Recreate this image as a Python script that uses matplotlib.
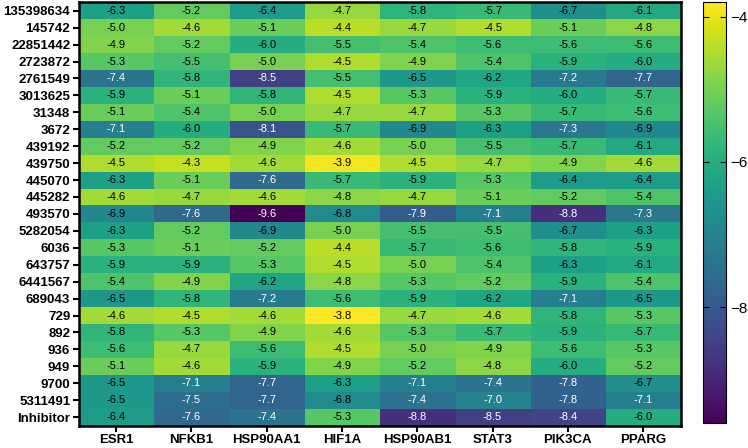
import numpy as np
import matplotlib.pyplot as plt

plt.rcParams['font.family'] = ['Liberation Sans', 'DejaVu Sans']

compounds = ["135398634", "145742", "22851442", "2723872", "2761549", "3013625",
             "31348", "3672", "439192", "439750", "445070", "445282", "493570",
             "5282054", "6036", "643757", "6441567", "689043", "729", "892",
             "936", "949", "9700", "5311491", "Inhibitor"]
targets = ["ESR1", "NFKB1", "HSP90AA1", "HIF1A", "HSP90AB1", "STAT3", "PIK3CA", "PPARG"]

scores = np.array([
    [-6.3, -5.2, -6.4, -4.7, -5.8, -5.7, -6.7, -6.1],
    [-5.0, -4.6, -5.1, -4.4, -4.7, -4.5, -5.1, -4.8],
    [-4.9, -5.2, -6.0, -5.5, -5.4, -5.6, -5.6, -5.6],
    [-5.3, -5.5, -5.0, -4.5, -4.9, -5.4, -5.9, -6.0],
    [-7.4, -5.8, -8.5, -5.5, -6.5, -6.2, -7.2, -7.7],
    [-5.9, -5.1, -5.8, -4.5, -5.3, -5.9, -6.0, -5.7],
    [-5.1, -5.4, -5.0, -4.7, -4.7, -5.3, -5.7, -5.6],
    [-7.1, -6.0, -8.1, -5.7, -6.9, -6.3, -7.3, -6.9],
    [-5.2, -5.2, -4.9, -4.6, -5.0, -5.5, -5.7, -6.1],
    [-4.5, -4.3, -4.6, -3.9, -4.5, -4.7, -4.9, -4.6],
    [-6.3, -5.1, -7.6, -5.7, -5.9, -5.3, -6.4, -6.4],
    [-4.6, -4.7, -4.6, -4.8, -4.7, -5.1, -5.2, -5.4],
    [-6.9, -7.6, -9.6, -6.8, -7.9, -7.1, -8.8, -7.3],
    [-6.3, -5.2, -6.9, -5.0, -5.5, -5.5, -6.7, -6.3],
    [-5.3, -5.1, -5.2, -4.4, -5.7, -5.6, -5.8, -5.9],
    [-5.9, -5.9, -5.3, -4.5, -5.0, -5.4, -6.3, -6.1],
    [-5.4, -4.9, -6.2, -4.8, -5.3, -5.2, -5.9, -5.4],
    [-6.5, -5.8, -7.2, -5.6, -5.9, -6.2, -7.1, -6.5],
    [-4.6, -4.5, -4.6, -3.8, -4.7, -4.6, -5.8, -5.3],
    [-5.8, -5.3, -4.9, -4.6, -5.3, -5.7, -5.9, -5.7],
    [-5.6, -4.7, -5.6, -4.5, -5.0, -4.9, -5.6, -5.3],
    [-5.1, -4.6, -5.9, -4.9, -5.2, -4.8, -6.0, -5.2],
    [-6.5, -7.1, -7.7, -6.3, -7.1, -7.4, -7.8, -6.7],
    [-6.5, -7.5, -7.7, -6.8, -7.4, -7.0, -7.8, -7.1],
    [-6.4, -7.6, -7.4, -5.3, -8.8, -8.5, -8.4, -6.0],
])

fig = plt.figure(figsize=(7.48, 4.48), dpi=100)
ax = fig.add_axes([0.105, 0.05, 0.805, 0.945])
cax = fig.add_axes([0.94, 0.055, 0.03, 0.94])

im = ax.imshow(scores, cmap="viridis", aspect="auto",
               vmin=scores.min(), vmax=scores.max())

for i in range(scores.shape[0]):
    for j in range(scores.shape[1]):
        v = scores[i, j]
        ax.text(j, i, f"{v:.1f}", ha="center", va="center", fontsize=8,
                color="white" if v < -6.95 else "black")

ax.set_xticks(range(len(targets)))
ax.set_xticklabels(targets, fontsize=9.5, fontweight="bold")
ax.set_yticks(range(len(compounds)))
ax.set_yticklabels(compounds, fontsize=9.5, fontweight="bold")
ax.tick_params(length=4, width=1.5, pad=2)
for s in ax.spines.values():
    s.set_linewidth(1.8)

cb = fig.colorbar(im, cax=cax, ticks=[-4, -6, -8])
cb.ax.tick_params(labelsize=11, direction="in", length=4, left=True, right=True)
cb.outline.set_linewidth(0.8)

fig.savefig("out.png", dpi=100)
